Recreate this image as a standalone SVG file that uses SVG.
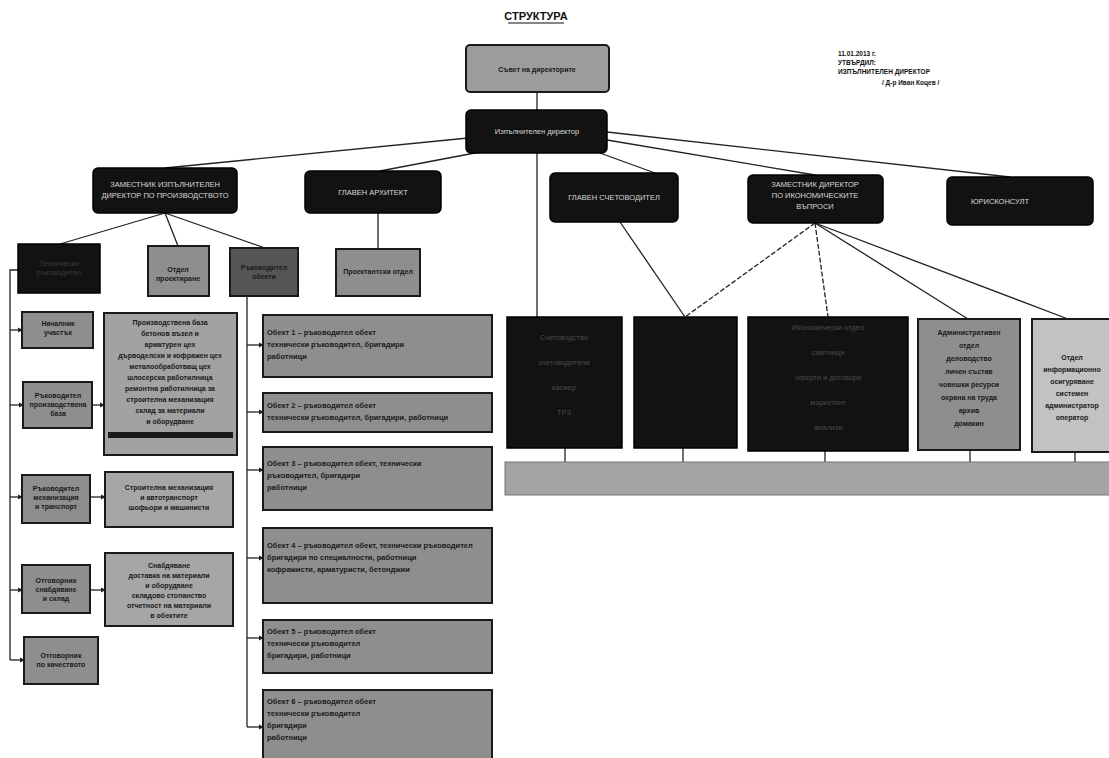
<svg xmlns="http://www.w3.org/2000/svg" width="1109" height="758" viewBox="0 0 1109 758">
<style>
.blk{fill:#121212;stroke:#000;stroke-width:1.5}
.gry{fill:#8e8e8e;stroke:#1a1a1a;stroke-width:2}
.lgt{fill:#b4b4b4;stroke:#1a1a1a;stroke-width:2}
.dgr{fill:#555;stroke:#1a1a1a;stroke-width:2}
.wt{font-family:"Liberation Sans",Arial,sans-serif;font-size:7.5px;fill:#d8d8d8;text-anchor:middle}
.dt{font-family:"Liberation Sans",Arial,sans-serif;font-size:7px;font-weight:bold;fill:#1a1a1a;text-anchor:middle}
.lt{font-family:"Liberation Sans",Arial,sans-serif;font-size:7.5px;font-weight:bold;fill:#1a1a1a}
.ln{stroke:#222;stroke-width:1.3;fill:none}
</style>
<defs>
<marker id="ar" viewBox="0 0 6 6" refX="5" refY="3" markerWidth="4" markerHeight="4" orient="auto"><path d="M0,0L6,3L0,6z" fill="#222"/></marker>
</defs>
<rect width="1109" height="758" fill="#fff"/>
<g id="title">
<text x="536" y="20" font-family="Liberation Sans,Arial,sans-serif" font-size="11" font-weight="bold" text-anchor="middle" fill="#111">СТРУКТУРА</text>
<line x1="508" y1="23" x2="564" y2="23" stroke="#111" stroke-width="1.2"/>
</g>
<g id="approval" font-family="Liberation Sans,Arial,sans-serif" font-size="6.5" font-weight="bold" fill="#111">
<text x="838" y="56">11.01.2013 г.</text>
<text x="838" y="65">УТВЪРДИЛ:</text>
<text x="838" y="74">ИЗПЪЛНИТЕЛЕН ДИРЕКТОР</text>
<text x="882" y="85">/ Д-р Иван Коцев /</text>
</g>
<g id="connectors">
<line class="ln" x1="537" y1="92" x2="537" y2="110"/>
<line class="ln" x1="468" y1="138" x2="165" y2="168"/>
<line class="ln" x1="480" y1="152" x2="380" y2="171"/>
<line class="ln" x1="537" y1="153" x2="537" y2="317"/>
<line class="ln" x1="600" y1="153" x2="655" y2="173"/>
<line class="ln" x1="607" y1="140" x2="815" y2="175"/>
<line class="ln" x1="607" y1="132" x2="1010" y2="177"/>
<line class="ln" x1="165" y1="213" x2="60" y2="244"/>
<line class="ln" x1="165" y1="213" x2="178" y2="246"/>
<line class="ln" x1="165" y1="213" x2="265" y2="248"/>
<line class="ln" x1="378" y1="213" x2="378" y2="249"/>
<polyline class="ln" points="18,270 10,270 10,660"/>
<line class="ln" x1="10" y1="330" x2="22" y2="330" marker-end="url(#ar)"/>
<line class="ln" x1="10" y1="405" x2="23" y2="405" marker-end="url(#ar)"/>
<line class="ln" x1="10" y1="497" x2="22" y2="497" marker-end="url(#ar)"/>
<line class="ln" x1="10" y1="590" x2="22" y2="590" marker-end="url(#ar)"/>
<line class="ln" x1="10" y1="660" x2="24" y2="660" marker-end="url(#ar)"/>
<line class="ln" x1="92" y1="405" x2="104" y2="405" marker-end="url(#ar)"/>
<line class="ln" x1="90" y1="497" x2="105" y2="497" marker-end="url(#ar)"/>
<line class="ln" x1="90" y1="590" x2="105" y2="590" marker-end="url(#ar)"/>
<polyline class="ln" points="247,296 247,727"/>
<line class="ln" x1="247" y1="345" x2="263" y2="345" marker-end="url(#ar)"/>
<line class="ln" x1="247" y1="412" x2="263" y2="412" marker-end="url(#ar)"/>
<line class="ln" x1="247" y1="470" x2="263" y2="470" marker-end="url(#ar)"/>
<line class="ln" x1="247" y1="558" x2="263" y2="558" marker-end="url(#ar)"/>
<line class="ln" x1="247" y1="638" x2="263" y2="638" marker-end="url(#ar)"/>
<line class="ln" x1="247" y1="727" x2="263" y2="727" marker-end="url(#ar)"/>
<line class="ln" x1="620" y1="222" x2="685" y2="317"/>
<line class="ln" x1="815" y1="223" x2="685" y2="317" stroke-dasharray="5,2"/>
<line class="ln" x1="815" y1="223" x2="828" y2="317" stroke-dasharray="5,2"/>
<line class="ln" x1="815" y1="223" x2="968" y2="319"/>
<line class="ln" x1="815" y1="223" x2="1068" y2="319"/>
<line class="ln" x1="565" y1="448" x2="565" y2="462"/>
<line class="ln" x1="683" y1="448" x2="683" y2="462"/>
<line class="ln" x1="825" y1="451" x2="825" y2="462"/>
<line class="ln" x1="970" y1="450" x2="970" y2="462"/>
<line class="ln" x1="1075" y1="452" x2="1075" y2="462"/>
</g>
<g id="board">
<rect class="lgt" x="466" y="45" width="143" height="47" rx="4" fill="#9a9a9a" style="fill:#9c9c9c"/>
<text class="dt" x="537" y="72" font-size="9">Съвет на директорите</text>
</g>
<g id="ceo">
<rect class="blk" x="466" y="110" width="141" height="43" rx="5"/>
<text class="wt" x="537" y="134" font-size="8.5">Изпълнителен директор</text>
</g>
<g id="deputy1">
<rect class="blk" x="93" y="168" width="144" height="45" rx="5"/>
<text class="wt" x="165" y="187">ЗАМЕСТНИК ИЗПЪЛНИТЕЛЕН</text>
<text class="wt" x="165" y="198">ДИРЕКТОР ПО ПРОИЗВОДСТВОТО</text>
</g>
<g id="architect">
<rect class="blk" x="305" y="171" width="136" height="42" rx="5"/>
<text class="wt" x="373" y="195">ГЛАВЕН АРХИТЕКТ</text>
</g>
<g id="accountant">
<rect class="blk" x="550" y="173" width="128" height="49" rx="5"/>
<text class="wt" x="614" y="200">ГЛАВЕН СЧЕТОВОДИТЕЛ</text>
</g>
<g id="deputy2">
<rect class="blk" x="748" y="175" width="135" height="48" rx="5"/>
<text class="wt" x="815" y="187">ЗАМЕСТНИК ДИРЕКТОР</text>
<text class="wt" x="815" y="198">ПО ИКОНОМИЧЕСКИТЕ</text>
<text class="wt" x="815" y="209">ВЪПРОСИ</text>
</g>
<g id="legal">
<rect class="blk" x="947" y="177" width="146" height="48" rx="5"/>
<text class="wt" x="1000" y="204">ЮРИСКОНСУЛТ</text>
</g>
<g id="techlead">
<rect class="blk" x="18" y="244" width="82" height="49"/>
<text class="wt" x="59" y="266" font-size="6.5" fill="#444" style="fill:#3a3a3a">Технически</text>
<text class="wt" x="59" y="275" font-size="6.5" style="fill:#3a3a3a">ръководител</text>
</g>
<g id="design">
<rect class="gry" x="148" y="246" width="61" height="50"/>
<text class="dt" x="178" y="272" font-size="6">Отдел</text>
<text class="dt" x="178" y="281" font-size="6">проектиране</text>
</g>
<g id="sitelead">
<rect class="dgr" x="230" y="248" width="68" height="48"/>
<text class="dt" x="264" y="270" font-size="6">Ръководител</text>
<text class="dt" x="264" y="279" font-size="6">обекти</text>
</g>
<g id="designdept">
<rect class="gry" x="336" y="249" width="84" height="47"/>
<text class="dt" x="378" y="274" font-size="6.5">Проектантски отдел</text>
</g>
<g id="left1">
<rect class="gry" x="22" y="312" width="71" height="36"/>
<text class="dt" x="58" y="326" font-size="6">Началник</text>
<text class="dt" x="58" y="335" font-size="6">участък</text>
</g>
<g id="left2">
<rect class="gry" x="23" y="382" width="69" height="46"/>
<text class="dt" x="58" y="398" font-size="6">Ръководител</text>
<text class="dt" x="58" y="407" font-size="6">производствена</text>
<text class="dt" x="58" y="416" font-size="6">база</text>
</g>
<g id="left3">
<rect class="gry" x="22" y="475" width="68" height="48"/>
<text class="dt" x="56" y="491" font-size="6">Ръководител</text>
<text class="dt" x="56" y="500" font-size="6">механизация</text>
<text class="dt" x="56" y="509" font-size="6">и транспорт</text>
</g>
<g id="left4">
<rect class="gry" x="22" y="565" width="68" height="48"/>
<text class="dt" x="56" y="583" font-size="6">Отговорник</text>
<text class="dt" x="56" y="592" font-size="6">снабдяване</text>
<text class="dt" x="56" y="601" font-size="6">и склад</text>
</g>
<g id="left5">
<rect class="gry" x="24" y="637" width="74" height="47"/>
<text class="dt" x="61" y="658" font-size="6">Отговорник</text>
<text class="dt" x="61" y="667" font-size="6">по качеството</text>
</g>
<g id="base">
<rect class="gry" x="104" y="313" width="133" height="142" style="fill:#a2a2a2"/>
<text class="dt" x="170" y="325" font-size="6.5">Производствена база</text>
<text class="dt" x="170" y="336" font-size="6.5">бетонов възел и</text>
<text class="dt" x="170" y="347" font-size="6.5">арматурен цех</text>
<text class="dt" x="170" y="358" font-size="6.5">дърводелски и кофражен цех</text>
<text class="dt" x="170" y="369" font-size="6.5">металообработващ цех</text>
<text class="dt" x="170" y="380" font-size="6.5">шлосерска работилница</text>
<text class="dt" x="170" y="391" font-size="6.5">ремонтна работилница за</text>
<text class="dt" x="170" y="402" font-size="6.5">строителна механизация</text>
<text class="dt" x="170" y="413" font-size="6.5">склад за материали</text>
<text class="dt" x="170" y="424" font-size="6.5">и оборудване</text>
<rect x="108" y="432" width="125" height="6" fill="#1a1a1a"/>
</g>
<g id="transport">
<rect class="gry" x="105" y="472" width="128" height="55" style="fill:#a6a6a6"/>
<text class="dt" x="169" y="490" font-size="6.5">Строителна механизация</text>
<text class="dt" x="169" y="500" font-size="6.5">и автотранспорт</text>
<text class="dt" x="169" y="510" font-size="6.5">шофьори и машинисти</text>
</g>
<g id="supply">
<rect class="gry" x="105" y="553" width="128" height="73" style="fill:#a6a6a6"/>
<text class="dt" x="169" y="568" font-size="6.5">Снабдяване</text>
<text class="dt" x="169" y="578" font-size="6.5">доставка на материали</text>
<text class="dt" x="169" y="588" font-size="6.5">и оборудване</text>
<text class="dt" x="169" y="598" font-size="6.5">складово стопанство</text>
<text class="dt" x="169" y="608" font-size="6.5">отчетност на материали</text>
<text class="dt" x="169" y="618" font-size="6.5">в обектите</text>
</g>
<g id="site1">
<rect class="gry" x="263" y="315" width="229" height="62"/>
<text class="lt" x="267" y="335">Обект 1 – ръководител обект</text>
<text class="lt" x="267" y="347">технически ръководител, бригадири</text>
<text class="lt" x="267" y="359">работници</text>
</g>
<g id="site2">
<rect class="gry" x="263" y="393" width="229" height="39"/>
<text class="lt" x="267" y="408">Обект 2 – ръководител обект</text>
<text class="lt" x="267" y="420">технически ръководител, бригадири, работници</text>
</g>
<g id="site3">
<rect class="gry" x="263" y="447" width="229" height="63"/>
<text class="lt" x="267" y="466">Обект 3 – ръководител обект, технически</text>
<text class="lt" x="267" y="478">ръководител, бригадири</text>
<text class="lt" x="267" y="490">работници</text>
</g>
<g id="site4">
<rect class="gry" x="263" y="528" width="229" height="75"/>
<text class="lt" x="267" y="548">Обект 4 – ръководител обект, технически ръководител</text>
<text class="lt" x="267" y="560">бригадири по специалности, работници</text>
<text class="lt" x="267" y="572">кофражисти, арматуристи, бетонджии</text>
</g>
<g id="site5">
<rect class="gry" x="263" y="620" width="229" height="53"/>
<text class="lt" x="267" y="634">Обект 5 – ръководител обект</text>
<text class="lt" x="267" y="646">технически ръководител</text>
<text class="lt" x="267" y="658">бригадири, работници</text>
</g>
<g id="site6">
<rect class="gry" x="263" y="690" width="229" height="72"/>
<text class="lt" x="267" y="704">Обект 6 – ръководител обект</text>
<text class="lt" x="267" y="716">технически ръководител</text>
<text class="lt" x="267" y="728">бригадири</text>
<text class="lt" x="267" y="740">работници</text>
</g>
<g id="acc1">
<rect class="blk" x="507" y="317" width="115" height="131"/>
<text class="wt" x="564" y="340" style="fill:#4a4a4a">Счетоводство</text>
<text class="wt" x="564" y="365" style="fill:#4a4a4a">счетоводители</text>
<text class="wt" x="564" y="390" style="fill:#4a4a4a">касиер</text>
<text class="wt" x="564" y="415" style="fill:#4a4a4a">ТРЗ</text>
</g>
<g id="acc2">
<rect class="blk" x="634" y="317" width="103" height="131"/>
</g>
<g id="acc3">
<rect class="blk" x="748" y="317" width="160" height="134"/>
<text class="wt" x="828" y="330" style="fill:#4a4a4a">Икономически отдел</text>
<text class="wt" x="828" y="355" style="fill:#4a4a4a">сметчици</text>
<text class="wt" x="828" y="380" style="fill:#4a4a4a">оферти и договори</text>
<text class="wt" x="828" y="405" style="fill:#4a4a4a">маркетинг</text>
<text class="wt" x="828" y="430" style="fill:#4a4a4a">анализи</text>
</g>
<g id="acc4">
<rect class="gry" x="918" y="319" width="102" height="131"/>
<text class="dt" x="969" y="335" font-size="6.5">Административен</text>
<text class="dt" x="969" y="348" font-size="6.5">отдел</text>
<text class="dt" x="969" y="361" font-size="6.5">деловодство</text>
<text class="dt" x="969" y="374" font-size="6.5">личен състав</text>
<text class="dt" x="969" y="387" font-size="6.5">човешки ресурси</text>
<text class="dt" x="969" y="400" font-size="6.5">охрана на труда</text>
<text class="dt" x="969" y="413" font-size="6.5">архив</text>
<text class="dt" x="969" y="426" font-size="6.5">домакин</text>
</g>
<g id="acc5">
<rect class="lgt" x="1032" y="319" width="80" height="133" style="fill:#c2c2c2"/>
<text class="dt" x="1072" y="360" font-size="6.5">Отдел</text>
<text class="dt" x="1072" y="372" font-size="6.5">информационно</text>
<text class="dt" x="1072" y="384" font-size="6.5">осигуряване</text>
<text class="dt" x="1072" y="396" font-size="6.5">системен</text>
<text class="dt" x="1072" y="408" font-size="6.5">администратор</text>
<text class="dt" x="1072" y="420" font-size="6.5">оператор</text>
</g>
<g id="staff">
<rect x="505" y="462" width="606" height="33" fill="#a3a3a3" stroke="#777" stroke-width="1"/>
</g>
</svg>
